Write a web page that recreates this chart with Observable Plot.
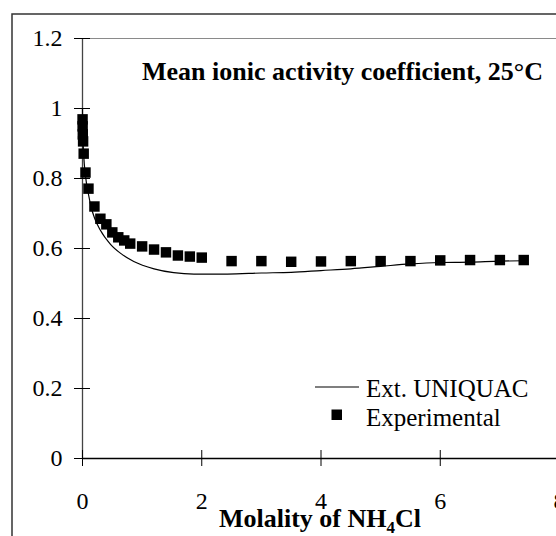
<!DOCTYPE html>
<html><head><meta charset="utf-8">
<script src="https://cdn.jsdelivr.net/npm/d3@7"></script>
<script src="https://cdn.jsdelivr.net/npm/@observablehq/plot@0.6"></script>
<style>
html,body{margin:0;padding:0;overflow:hidden;background:#fff;width:556px;height:536px}
#chart{position:absolute;left:0;top:0;width:600px}
#chart svg{max-width:none !important}
</style>
</head><body><div id="chart"></div>
<script>
// Experimental mean ionic activity coefficients of NH4Cl at 25°C
const expMolality = [0.001,0.002,0.005,0.01,0.02,0.05,0.1,0.2,0.3,0.4,0.5,0.6,0.7,0.8,1.0,1.2,1.4,1.6,1.8,2.0,2.5,3.0,3.5,4.0,4.5,5.0,5.5,6.0,6.5,7.0,7.4];
const expGamma    = [0.969,0.949,0.926,0.906,0.871,0.817,0.771,0.72,0.685,0.669,0.646,0.632,0.623,0.614,0.606,0.597,0.589,0.58,0.577,0.574,0.564,0.564,0.562,0.563,0.564,0.564,0.564,0.566,0.567,0.567,0.567];
// Extended UNIQUAC model curve
const modelMolality = [0,0.001,0.005,0.01,0.02,0.05,0.1,0.15,0.2,0.3,0.47,0.64,0.86,1.2,1.53,1.87,2.43,3.0,3.5,4.0,4.5,5.0,5.5,6.0,6.5,7.0,7.4];
const modelGamma    = [1.0,0.965,0.927,0.902,0.866,0.808,0.755,0.715,0.688,0.652,0.612,0.586,0.563,0.542,0.531,0.527,0.527,0.530,0.532,0.537,0.542,0.549,0.556,0.560,0.561,0.564,0.565];
// Axis ticks
const xTicks = [0,2,4,6,8];
const yTicks = [0,0.2,0.4,0.6,0.8,1,1.2];

const expData = expMolality.map((m,i)=>({m, g: expGamma[i]}));
const modelData = modelMolality.map((m,i)=>({m, g: modelGamma[i]}));

const chart = Plot.plot({
  width: 600, height: 536,
  marginLeft: 82, marginRight: 41, marginTop: 38, marginBottom: 78,
  x: {domain: [0, 8], axis: null, label: null},
  y: {domain: [0, 1.2], axis: null, label: null},
  style: {fontFamily: "'Liberation Serif','Times New Roman',serif", fontSize: "24px", color: "#000", background: "#fff", overflow: "visible", maxWidth: "none"},
  marks: [
    Plot.ruleY([1.2], {stroke: "#8a8a8a", strokeWidth: 1}),
    Plot.ruleX([0], {stroke: "#444", strokeWidth: 1.3}),
    Plot.ruleY([0], {stroke: "#000", strokeWidth: 1.3}),
    Plot.axisY(yTicks, {tickSize: 16, dx: 8, tickPadding: 12, tickFormat: d => String(d), fontSize: 24, label: null}),
    Plot.axisX(xTicks, {tickSize: 16, dy: -8, tickPadding: 25, tickFormat: d => String(d), fontSize: 24, label: null}),
    Plot.line(modelData, {x: "m", y: "g", curve: "monotone-x", stroke: "#000", strokeWidth: 1.2}),
    Plot.dot(expData, {x: "m", y: "g", symbol: "square", r: 5.9, fill: "#000", stroke: "none"})
  ]
});
chart.style.maxWidth = "none";
document.getElementById("chart").appendChild(chart);

const svg = d3.select(chart);
const serif = "'Liberation Serif','Times New Roman',serif";
svg.append("path").attr("d", "M12,540V14H610").attr("fill", "none").attr("stroke", "#333").attr("stroke-width", 1.5);
svg.append("text").attr("x", 142).attr("y", 80).attr("text-anchor", "start").attr("font-family", serif).attr("font-weight", "bold").attr("font-size", 26).attr("fill", "#000")
  .text("Mean ionic activity coefficient, 25°C");
// legend
svg.append("path").attr("d", "M315,387H359").attr("stroke", "#000").attr("stroke-width", 1.2);
svg.append("text").attr("x", 366).attr("y", 397).attr("text-anchor", "start").attr("font-family", serif).attr("font-size", 25).attr("fill", "#000").text("Ext. UNIQUAC");
svg.append("rect").attr("x", 331.5).attr("y", 409.5).attr("width", 10.5).attr("height", 10.5).attr("fill", "#000");
svg.append("text").attr("x", 366).attr("y", 426).attr("text-anchor", "start").attr("font-family", serif).attr("font-size", 25).attr("fill", "#000").text("Experimental");
// x-axis title with subscript
const xt = svg.append("text").attr("x", 320).attr("y", 527).attr("text-anchor", "middle").attr("font-family", serif).attr("font-weight", "bold").attr("font-size", 26).attr("fill", "#000");
xt.append("tspan").text("Molality of NH");
xt.append("tspan").attr("font-size", 17).attr("dy", 6).text("4");
xt.append("tspan").attr("dy", -6).text("Cl");
</script>
</body></html>
